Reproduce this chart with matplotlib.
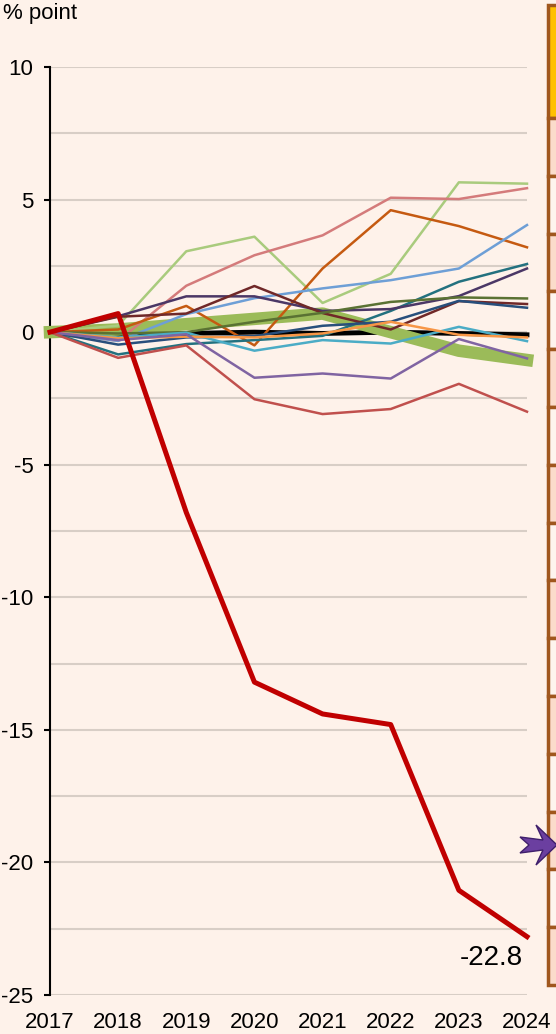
import numpy as np
import matplotlib.pyplot as plt
from matplotlib.patches import Rectangle, Polygon

plt.rcParams['font.family'] = ['Liberation Sans', 'DejaVu Sans']

years = [2017, 2018, 2019, 2020, 2021, 2022, 2023, 2024]

# change since 2017, % point
red_thick = [0, 0.7, -6.8, -13.2, -14.4, -14.8, -21.05, -22.8]
green_band = [0, 0.1, 0.3, 0.5, 0.7, 0.0, -0.7, -1.05]
black_avg = [0, -0.2, -0.05, 0.0, -0.05, 0.0, -0.05, -0.1]
light_green = [0, 0.25, 3.05, 3.6, 1.1, 2.2, 5.65, 5.6]
pink = [0, -0.33, 1.75, 2.9, 3.65, 5.07, 5.02, 5.43]
dark_orange = [0, 0.1, 0.99, -0.5, 2.4, 4.6, 4.0, 3.2]
light_blue = [0, -0.33, 0.68, 1.28, 1.65, 1.96, 2.4, 4.04]
teal = [0, -0.84, -0.45, -0.3, -0.14, 0.8, 1.9, 2.57]
dark_purple = [0, 0.6, 1.35, 1.35, 0.8, 0.87, 1.36, 2.4]
maroon = [0, 0.58, 0.7, 1.74, 0.72, 0.1, 1.17, 1.06]
olive = [0, -0.05, 0.0, 0.39, 0.73, 1.14, 1.31, 1.27]
navy = [0, -0.47, -0.2, -0.15, 0.24, 0.39, 1.18, 0.92]
cyan = [0, -0.2, -0.02, -0.7, -0.3, -0.43, 0.2, -0.34]
orange = [0, -0.23, -0.17, -0.2, -0.05, 0.39, -0.1, -0.2]
purple = [0, -0.3, -0.08, -1.72, -1.56, -1.75, -0.26, -0.99]
red_mid = [0, -0.97, -0.5, -2.53, -3.09, -2.9, -1.95, -3.0]

thin_series = [
    (light_green, '#A9CB7D'),
    (pink, '#D47B7B'),
    (dark_orange, '#C55A11'),
    (light_blue, '#6E9FD6'),
    (teal, '#23717F'),
    (dark_purple, '#4B3766'),
    (maroon, '#702828'),
    (olive, '#5A7233'),
    (navy, '#284F7C'),
    (cyan, '#4BACC6'),
    (orange, '#F79646'),
    (purple, '#8064A2'),
    (red_mid, '#C0504D'),
]

bg = '#FEF2EA'
fig = plt.figure(figsize=(5.56, 10.34), dpi=100, facecolor=bg)
ax = fig.add_axes([50/556, 1 - 995/1034, 477/556, 928/1034], facecolor=bg)

ax.plot(years, black_avg, color='black', lw=3.5, zorder=3, clip_on=False)
ax.plot(years, green_band, color='#9BBB59', lw=9, zorder=4, clip_on=False)
for vals, col in thin_series:
    ax.plot(years, vals, color=col, lw=1.8, zorder=5, clip_on=False)
ax.plot(years, red_thick, color='#C00000', lw=3.6, zorder=6, clip_on=False)

ax.annotate(f'{red_thick[-1]:.1f}', (years[-1], red_thick[-1]),
            xytext=(-3, -6), textcoords='offset points',
            ha='right', va='top', fontsize=20)

ax.set_xlim(2017, 2024)
ax.set_ylim(-25, 10)
ax.set_yticks(np.arange(-25, 10.1, 5))
ax.set_yticks(np.arange(-25, 10.1, 2.5), minor=True)
ax.set_xticks(years)
ax.grid(axis='y', which='both', color='#D8CEC6', lw=1.5, zorder=0)
ax.set_axisbelow(True)

for s in ['top', 'right', 'bottom']:
    ax.spines[s].set_visible(False)
ax.spines['left'].set_linewidth(1.5)
ax.tick_params(axis='y', which='major', length=4, width=1.5, pad=8, labelsize=16)
ax.tick_params(axis='y', which='minor', length=0)
ax.tick_params(axis='x', length=0, pad=12, labelsize=16)
ax.set_yticklabels([f'{v:g}' for v in np.arange(-25, 10.1, 5)])

fig.text(3/556, 1 - 14/1034, '% point', fontsize=16, va='center', ha='left')

# partial table panel on the right edge
def fy(py):
    return 1 - py/1034

brown = '#A0571E'
px0 = 548/556
pw = 0.2
header_top, header_bot = 5, 118
row_h = (985 - header_bot) / 15
fig.patches.append(Rectangle((px0, fy(header_bot)), pw, (header_bot - header_top)/1034,
                             transform=fig.transFigure, facecolor='#FFC000',
                             edgecolor=brown, lw=2.5, zorder=1))
for i in range(15):
    top = header_bot + i*row_h
    col = '#FBDCCB' if i % 2 == 0 else '#FEF4EE'
    fig.patches.append(Rectangle((px0, fy(top + row_h)), pw, row_h/1034,
                                 transform=fig.transFigure, facecolor=col,
                                 edgecolor=brown, lw=2.5, zorder=1))

# purple pointer arrow
arrow_px = [(557, 845), (536, 825), (543, 840), (520, 837), (529, 845),
            (520, 853), (543, 850), (536, 865)]
fig.patches.append(Polygon([(x/556, fy(y)) for x, y in arrow_px], closed=True,
                           transform=fig.transFigure, facecolor='#6B3FA0',
                           edgecolor='#3F1F6B', lw=1, zorder=2))

fig.savefig('out.png', dpi=100, facecolor=bg)
